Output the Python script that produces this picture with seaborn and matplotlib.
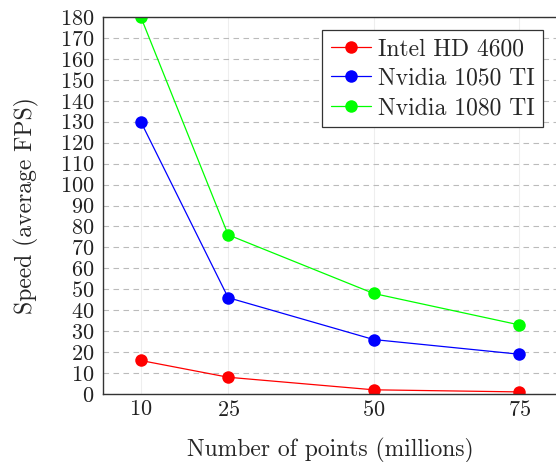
import numpy as np
import pandas as pd
import matplotlib
matplotlib.use("Agg")
import matplotlib.pyplot as plt
import seaborn as sns

# data
points = [10, 25, 50, 75]
intel_hd = [16, 8, 2, 1]
nvidia_1050 = [130, 46, 26, 19]
nvidia_1080 = [180, 76, 48, 33]
series_names = ["Intel HD 4600", "Nvidia 1050 TI", "Nvidia 1080 TI"]
colors = ["#ff0000", "#0000ff", "#00ff00"]
y_ticks = list(range(0, 181, 10))

df = pd.DataFrame({
    "points": points * 3,
    "fps": intel_hd + nvidia_1050 + nvidia_1080,
    "gpu": np.repeat(series_names, len(points)),
})

sns.set_style("white")
plt.rcParams["font.family"] = ["cmr10", "DejaVu Serif"]
plt.rcParams["axes.formatter.use_mathtext"] = True

fig = plt.figure(figsize=(5.56, 4.62), dpi=100)
ax = fig.add_axes([103 / 556, 68 / 462, 454 / 556, 377 / 462])

sns.lineplot(data=df, x="points", y="fps", hue="gpu", hue_order=series_names,
             palette=colors, marker="o", markersize=9, markeredgewidth=0,
             linewidth=0.9, ax=ax)

ax.set_xlim(3.5, 81.5)
ax.set_ylim(0, 180)
ax.set_xticks(points)
ax.set_yticks(y_ticks)
ax.tick_params(axis="both", length=0, labelsize=16, colors="#222222")
ax.tick_params(axis="x", pad=4)
ax.tick_params(axis="y", pad=6)

ax.yaxis.grid(True, linestyle=(0, (5, 4)), color="#bbbbbb", linewidth=0.8)
ax.xaxis.grid(True, linestyle="-", color="#eeeeee", linewidth=0.8)
ax.set_axisbelow(True)
for s in ax.spines.values():
    s.set_color("#333333")
    s.set_linewidth(1.0)

ax.set_xlabel("Number of points (millions)", fontsize=17, labelpad=13)
ax.set_ylabel("Speed (average FPS)", fontsize=17, labelpad=15)

leg = ax.legend(loc="upper right", bbox_to_anchor=(0.969, 0.966), borderaxespad=0,
                fontsize=17, fancybox=False, edgecolor="#333333", framealpha=1,
                handlelength=1.7, handletextpad=0.3, labelspacing=0.31,
                borderpad=0.35, title=None)
leg.get_frame().set_linewidth(0.9)

fig.savefig("out.png", dpi=100)
